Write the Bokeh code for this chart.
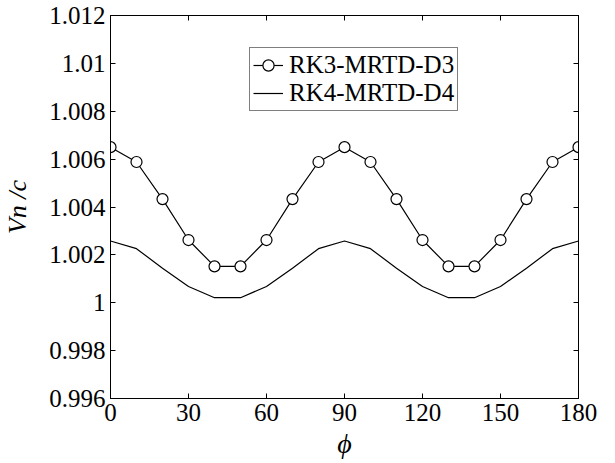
from bokeh.plotting import figure
from bokeh.models import LinearAxis, FixedTicker, Legend, LegendItem, Range1d
from bokeh.embed import file_html
from bokeh.resources import INLINE

phi = [0, 10, 20, 30, 40, 50, 60, 70, 80, 90, 100, 110, 120, 130, 140, 150, 160, 170, 180]
rk3_mrtd_d3 = [1.0065, 1.00588, 1.00433, 1.00262, 1.00152, 1.00152, 1.00262, 1.00433, 1.00588,
               1.0065, 1.00588, 1.00433, 1.00262, 1.00152, 1.00152, 1.00262, 1.00433, 1.00588, 1.0065]
rk4_mrtd_d4 = [1.00258, 1.00226, 1.00144, 1.00068, 1.00021, 1.00021, 1.00068, 1.00144, 1.00226,
               1.00258, 1.00226, 1.00144, 1.00068, 1.00021, 1.00021, 1.00068, 1.00144, 1.00226, 1.00258]

x_ticks = [0, 30, 60, 90, 120, 150, 180]
y_ticks = [0.996, 0.998, 1.0, 1.002, 1.004, 1.006, 1.008, 1.01, 1.012]
y_tick_labels = ["0.996", "0.998", "1", "1.002", "1.004", "1.006", "1.008", "1.01", "1.012"]

FONT = "'Liberation Serif'"

p = figure(width=615, height=463, output_backend="svg", toolbar_location=None,
           x_range=Range1d(0, 180), y_range=Range1d(0.996, 1.012),
           min_border_left=110, min_border_right=37, min_border_top=15, min_border_bottom=65)
p.background_fill_color = "white"
p.border_fill_color = "white"
p.outline_line_color = "black"
p.outline_line_width = 1
p.grid.visible = False

for ax in (p.xaxis[0], p.yaxis[0]):
    ax.major_tick_in = 5
    ax.major_tick_out = 0
    ax.minor_tick_line_color = None
    ax.axis_line_color = "black"
    ax.major_tick_line_color = "black"
    ax.major_label_text_font = FONT
    ax.major_label_text_font_size = "25px"
    ax.major_label_text_color = "black"
    ax.axis_label_text_font = FONT
    ax.axis_label_text_font_style = "italic"
    ax.axis_label_text_color = "black"

p.xaxis[0].ticker = FixedTicker(ticks=x_ticks)
p.xaxis[0].major_label_standoff = 5
p.xaxis[0].axis_label = "\u03d5"
p.xaxis[0].axis_label_text_font_size = "28px"
p.xaxis[0].axis_label_standoff = 4

p.yaxis[0].ticker = FixedTicker(ticks=y_ticks)
p.yaxis[0].major_label_overrides = {t: l for t, l in zip(y_ticks, y_tick_labels)}
p.yaxis[0].major_label_standoff = 5
p.yaxis[0].axis_label = "Vn /c"
p.yaxis[0].axis_label_text_font_size = "26px"
p.yaxis[0].axis_label_standoff = 14

top = LinearAxis(ticker=FixedTicker(ticks=x_ticks), major_tick_in=5, major_tick_out=0,
                 minor_tick_line_color=None, major_label_standoff=0, axis_line_color="black",
                 major_label_overrides={t: "" for t in x_ticks})
right = LinearAxis(ticker=FixedTicker(ticks=y_ticks), major_tick_in=5, major_tick_out=0,
                   minor_tick_line_color=None, major_label_standoff=0, axis_line_color="black",
                   major_label_overrides={t: "" for t in y_ticks})
p.add_layout(top, "above")
p.add_layout(right, "right")

l3 = p.line(phi, rk3_mrtd_d3, line_color="black", line_width=1.2)
c3 = p.scatter(phi, rk3_mrtd_d3, marker="circle", size=11, fill_color="white",
               line_color="black", line_width=1.2)
l4 = p.line(phi, rk4_mrtd_d4, line_color="black", line_width=1.2)

legend = Legend(items=[LegendItem(label="RK3-MRTD-D3", renderers=[l3, c3]),
                       LegendItem(label="RK4-MRTD-D4", renderers=[l4])],
                location=(139, 287), orientation="vertical")
legend.label_text_font = FONT
legend.label_text_font_size = "25px"
legend.label_text_color = "black"
legend.border_line_color = "black"
legend.border_line_width = 1
legend.background_fill_color = "white"
legend.background_fill_alpha = 1
legend.padding = 3
legend.spacing = 0
legend.margin = 0
legend.label_height = 28
legend.glyph_height = 28
legend.glyph_width = 30
legend.label_standoff = 6
p.add_layout(legend, "center")

open("out.html", "w").write(file_html(p, INLINE))
